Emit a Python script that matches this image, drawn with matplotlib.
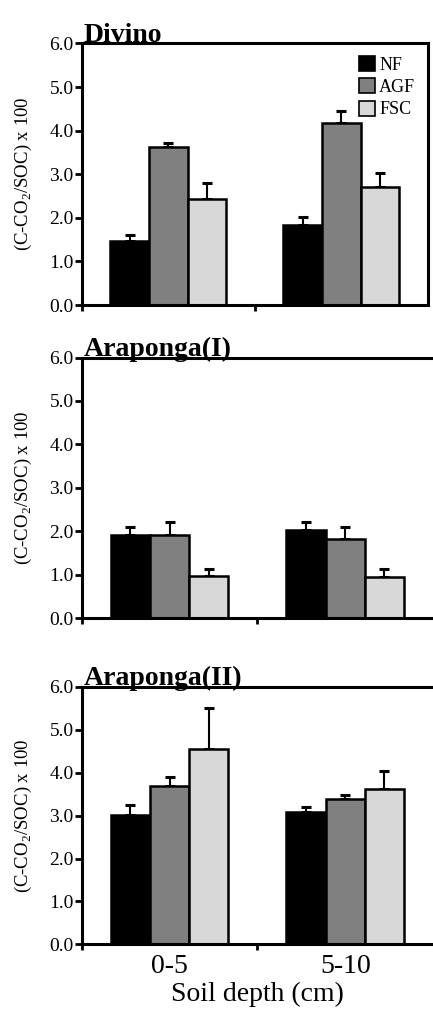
import numpy as np
import matplotlib
matplotlib.use("Agg")
import matplotlib.pyplot as plt
from matplotlib.patches import Patch

plt.rcParams['font.family'] = ['Liberation Serif', 'DejaVu Serif']
plt.rcParams['mathtext.fontset'] = 'custom'
plt.rcParams['mathtext.rm'] = 'Liberation Serif'

# soil respiration quotient per site, two depths, three land uses
depths = ['0-5', '5-10']
systems = ['NF', 'AGF', 'FSC']
colors = ['#000000', '#808080', '#d8d8d8']
sites = ['Divino', 'Araponga(I)', 'Araponga(II)']

divino_mean = [[1.47, 1.83], [3.63, 4.17], [2.43, 2.70]]
divino_err = [[0.13, 0.19], [0.09, 0.28], [0.37, 0.32]]

arap1_mean = [[1.92, 2.02], [1.92, 1.82], [0.98, 0.94]]
arap1_err = [[0.18, 0.19], [0.29, 0.28], [0.16, 0.20]]

arap2_mean = [[3.02, 3.09], [3.70, 3.38], [4.54, 3.62]]
arap2_err = [[0.23, 0.12], [0.20, 0.10], [0.97, 0.42]]

means = [divino_mean, arap1_mean, arap2_mean]
errs = [divino_err, arap1_err, arap2_err]

fig = plt.figure(figsize=(4.33, 10.1), dpi=100)
positions = [
    [0.189, 0.698, 0.799, 0.259],
    [0.189, 0.388, 0.811, 0.258],
    [0.189, 0.065, 0.811, 0.255],
]

x = np.arange(len(depths))
width = 0.223
offsets = [-width, 0, width]

for i, (site, m, e) in enumerate(zip(sites, means, errs)):
    ax = fig.add_axes(positions[i])
    for j, sysname in enumerate(systems):
        xs = x + offsets[j]
        ax.bar(xs, m[j], width=width, color=colors[j], edgecolor='black',
               linewidth=1.8, zorder=2)
        ax.errorbar(xs, m[j], yerr=[np.zeros(len(xs)), e[j]], fmt='none',
                    ecolor='black', elinewidth=1.5, capsize=3.5,
                    capthick=2.2, zorder=1)
    ax.set_xlim(-0.5, 1.5)
    ax.set_ylim(0, 6)
    ax.set_yticks(np.arange(0, 7, 1))
    ax.set_yticklabels([f'{v:.1f}' for v in np.arange(0, 7, 1)], fontsize=14)
    ax.tick_params(axis='y', direction='out', length=5, width=2, pad=1)
    ax.set_xticks([-0.5, 0.5], minor=True)
    ax.tick_params(axis='x', which='minor', direction='out', length=4, width=2)
    ax.set_xticks(x)
    if i == 2:
        ax.set_xticklabels(depths, fontsize=20)
        ax.set_xlabel('Soil depth (cm)', fontsize=20, labelpad=2)
    else:
        ax.set_xticklabels([])
    ax.tick_params(axis='x', which='major', length=0, pad=7)
    for sp in ax.spines.values():
        sp.set_linewidth(2.2)
    if i > 0:
        ax.spines['right'].set_visible(False)
    ax.set_ylabel(r'(C-CO$_2$/SOC) x 100', fontsize=13.5, labelpad=11)
    ax.text(0.005, 1.006, site, transform=ax.transAxes, fontsize=20,
            fontweight='bold', ha='left', va='baseline')
    if i == 0:
        handles = [Patch(facecolor=c, edgecolor='black', linewidth=1.2)
                   for c in colors]
        ax.legend(handles, systems, loc='upper right', frameon=False,
                  fontsize=13, handlelength=0.9, handleheight=0.9,
                  handletextpad=0.2, labelspacing=0.25,
                  borderaxespad=0.3)

fig.savefig('out.png', dpi=100)
